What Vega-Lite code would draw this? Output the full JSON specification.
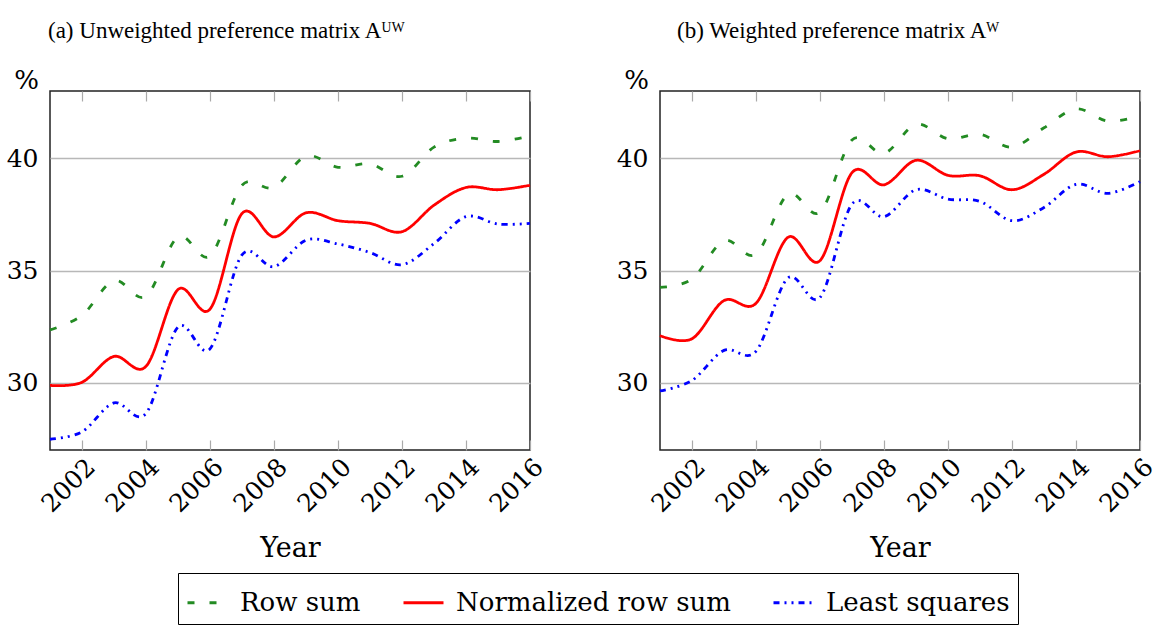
{
  "$schema": "https://vega.github.io/schema/vega-lite/v6.json",
  "background": "white",
  "padding": {"left": 5, "top": 19, "right": 0, "bottom": 0},
  "autosize": {"type": "pad"},
  "config": {
    "font": "DejaVu Serif",
    "view": {"stroke": "#222222", "strokeWidth": 1.5},
    "concat": {"spacing": 130},
    "axis": {"labelColor": "black", "titleColor": "black", "titleFontWeight": "normal"},
    "title": {"fontWeight": "normal", "color": "black"}
  },
  "datasets": {
    "pts": [
      {"panel": "a", "series": "Row sum", "year": 2001, "value": 32.35},
      {"panel": "a", "series": "Row sum", "year": 2002, "value": 33.0},
      {"panel": "a", "series": "Row sum", "year": 2003, "value": 34.55},
      {"panel": "a", "series": "Row sum", "year": 2004, "value": 33.85},
      {"panel": "a", "series": "Row sum", "year": 2005, "value": 36.5},
      {"panel": "a", "series": "Row sum", "year": 2006, "value": 35.65},
      {"panel": "a", "series": "Row sum", "year": 2007, "value": 38.8},
      {"panel": "a", "series": "Row sum", "year": 2008, "value": 38.7},
      {"panel": "a", "series": "Row sum", "year": 2009, "value": 40.1},
      {"panel": "a", "series": "Row sum", "year": 2010, "value": 39.6},
      {"panel": "a", "series": "Row sum", "year": 2011, "value": 39.75},
      {"panel": "a", "series": "Row sum", "year": 2012, "value": 39.2},
      {"panel": "a", "series": "Row sum", "year": 2013, "value": 40.5},
      {"panel": "a", "series": "Row sum", "year": 2014, "value": 40.9},
      {"panel": "a", "series": "Row sum", "year": 2015, "value": 40.75},
      {"panel": "a", "series": "Row sum", "year": 2016, "value": 41.0},
      {"panel": "a", "series": "Normalized row sum", "year": 2001, "value": 29.88},
      {"panel": "a", "series": "Normalized row sum", "year": 2002, "value": 30.02},
      {"panel": "a", "series": "Normalized row sum", "year": 2003, "value": 31.17},
      {"panel": "a", "series": "Normalized row sum", "year": 2004, "value": 30.73},
      {"panel": "a", "series": "Normalized row sum", "year": 2005, "value": 34.15},
      {"panel": "a", "series": "Normalized row sum", "year": 2006, "value": 33.28},
      {"panel": "a", "series": "Normalized row sum", "year": 2007, "value": 37.54},
      {"panel": "a", "series": "Normalized row sum", "year": 2008, "value": 36.5},
      {"panel": "a", "series": "Normalized row sum", "year": 2009, "value": 37.57},
      {"panel": "a", "series": "Normalized row sum", "year": 2010, "value": 37.22},
      {"panel": "a", "series": "Normalized row sum", "year": 2011, "value": 37.1},
      {"panel": "a", "series": "Normalized row sum", "year": 2012, "value": 36.73},
      {"panel": "a", "series": "Normalized row sum", "year": 2013, "value": 37.91},
      {"panel": "a", "series": "Normalized row sum", "year": 2014, "value": 38.7},
      {"panel": "a", "series": "Normalized row sum", "year": 2015, "value": 38.6},
      {"panel": "a", "series": "Normalized row sum", "year": 2016, "value": 38.8},
      {"panel": "a", "series": "Least squares", "year": 2001, "value": 27.48},
      {"panel": "a", "series": "Least squares", "year": 2002, "value": 27.81},
      {"panel": "a", "series": "Least squares", "year": 2003, "value": 29.1},
      {"panel": "a", "series": "Least squares", "year": 2004, "value": 28.63},
      {"panel": "a", "series": "Least squares", "year": 2005, "value": 32.48},
      {"panel": "a", "series": "Least squares", "year": 2006, "value": 31.51},
      {"panel": "a", "series": "Least squares", "year": 2007, "value": 35.7},
      {"panel": "a", "series": "Least squares", "year": 2008, "value": 35.17},
      {"panel": "a", "series": "Least squares", "year": 2009, "value": 36.35},
      {"panel": "a", "series": "Least squares", "year": 2010, "value": 36.18},
      {"panel": "a", "series": "Least squares", "year": 2011, "value": 35.8},
      {"panel": "a", "series": "Least squares", "year": 2012, "value": 35.26},
      {"panel": "a", "series": "Least squares", "year": 2013, "value": 36.2},
      {"panel": "a", "series": "Least squares", "year": 2014, "value": 37.4},
      {"panel": "a", "series": "Least squares", "year": 2015, "value": 37.07},
      {"panel": "a", "series": "Least squares", "year": 2016, "value": 37.1},
      {"panel": "b", "series": "Row sum", "year": 2001, "value": 34.25},
      {"panel": "b", "series": "Row sum", "year": 2002, "value": 34.62},
      {"panel": "b", "series": "Row sum", "year": 2003, "value": 36.33},
      {"panel": "b", "series": "Row sum", "year": 2004, "value": 35.73},
      {"panel": "b", "series": "Row sum", "year": 2005, "value": 38.4},
      {"panel": "b", "series": "Row sum", "year": 2006, "value": 37.6},
      {"panel": "b", "series": "Row sum", "year": 2007, "value": 40.82},
      {"panel": "b", "series": "Row sum", "year": 2008, "value": 40.22},
      {"panel": "b", "series": "Row sum", "year": 2009, "value": 41.51},
      {"panel": "b", "series": "Row sum", "year": 2010, "value": 40.87},
      {"panel": "b", "series": "Row sum", "year": 2011, "value": 41.07},
      {"panel": "b", "series": "Row sum", "year": 2012, "value": 40.5},
      {"panel": "b", "series": "Row sum", "year": 2013, "value": 41.36},
      {"panel": "b", "series": "Row sum", "year": 2014, "value": 42.2},
      {"panel": "b", "series": "Row sum", "year": 2015, "value": 41.66},
      {"panel": "b", "series": "Row sum", "year": 2016, "value": 41.88},
      {"panel": "b", "series": "Normalized row sum", "year": 2001, "value": 32.1},
      {"panel": "b", "series": "Normalized row sum", "year": 2002, "value": 31.96},
      {"panel": "b", "series": "Normalized row sum", "year": 2003, "value": 33.66},
      {"panel": "b", "series": "Normalized row sum", "year": 2004, "value": 33.54},
      {"panel": "b", "series": "Normalized row sum", "year": 2005, "value": 36.48},
      {"panel": "b", "series": "Normalized row sum", "year": 2006, "value": 35.44},
      {"panel": "b", "series": "Normalized row sum", "year": 2007, "value": 39.36},
      {"panel": "b", "series": "Normalized row sum", "year": 2008, "value": 38.82},
      {"panel": "b", "series": "Normalized row sum", "year": 2009, "value": 39.91},
      {"panel": "b", "series": "Normalized row sum", "year": 2010, "value": 39.24},
      {"panel": "b", "series": "Normalized row sum", "year": 2011, "value": 39.22},
      {"panel": "b", "series": "Normalized row sum", "year": 2012, "value": 38.6},
      {"panel": "b", "series": "Normalized row sum", "year": 2013, "value": 39.29},
      {"panel": "b", "series": "Normalized row sum", "year": 2014, "value": 40.28},
      {"panel": "b", "series": "Normalized row sum", "year": 2015, "value": 40.07},
      {"panel": "b", "series": "Normalized row sum", "year": 2016, "value": 40.34},
      {"panel": "b", "series": "Least squares", "year": 2001, "value": 29.63},
      {"panel": "b", "series": "Least squares", "year": 2002, "value": 30.1},
      {"panel": "b", "series": "Least squares", "year": 2003, "value": 31.44},
      {"panel": "b", "series": "Least squares", "year": 2004, "value": 31.4},
      {"panel": "b", "series": "Least squares", "year": 2005, "value": 34.67},
      {"panel": "b", "series": "Least squares", "year": 2006, "value": 33.8},
      {"panel": "b", "series": "Least squares", "year": 2007, "value": 37.96},
      {"panel": "b", "series": "Least squares", "year": 2008, "value": 37.4},
      {"panel": "b", "series": "Least squares", "year": 2009, "value": 38.6},
      {"panel": "b", "series": "Least squares", "year": 2010, "value": 38.18},
      {"panel": "b", "series": "Least squares", "year": 2011, "value": 38.08},
      {"panel": "b", "series": "Least squares", "year": 2012, "value": 37.22},
      {"panel": "b", "series": "Least squares", "year": 2013, "value": 37.81},
      {"panel": "b", "series": "Least squares", "year": 2014, "value": 38.84},
      {"panel": "b", "series": "Least squares", "year": 2015, "value": 38.44},
      {"panel": "b", "series": "Least squares", "year": 2016, "value": 38.96}
    ]
  },
  "bounds": "flush",
  "hconcat": [
    {
      "width": 480,
      "height": 359,
      "title": {"text": "(a) Unweighted preference matrix Aᵁᵂ", "anchor": "start", "frame": "group", "font": "Liberation Serif", "fontSize": 23, "offset": 24, "dx": -2},
      "data": {"name": "pts"},
      "transform": [{"filter": "datum.panel === 'a'"}],
      "layer": [
        {
          "mark": {"type": "line", "interpolate": "cardinal", "strokeWidth": 2.8},
          "encoding": {
            "x": {"field": "year", "type": "quantitative", "scale": {"domain": [2001, 2016], "nice": false, "zero": false},
              "axis": {"title": "Year", "values": [2002, 2004, 2006, 2008, 2010, 2012, 2014, 2016], "format": "d", "labelAngle": -45, "labelFont": "DejaVu Serif", "titleFont": "DejaVu Serif", "labelFontSize": 25, "titleFontSize": 27, "grid": false, "domain": false, "tickSize": -10, "tickColor": "#aaaaaa", "tickWidth": 1.2, "labelPadding": 14, "titlePadding": 19}},
            "y": {"field": "value", "type": "quantitative", "scale": {"domain": [27, 43], "nice": false, "zero": false},
              "axis": {"title": "%", "titleAngle": 0, "titleAlign": "center", "titleBaseline": "bottom", "titleX": -24, "titleY": 2, "values": [30, 35, 40], "labelFont": "DejaVu Serif", "titleFont": "DejaVu Serif", "labelFontSize": 25, "titleFontSize": 26, "grid": true, "gridColor": "#b8b8b8", "gridWidth": 1.3, "ticks": false, "domain": false, "labelPadding": 12}},
            "color": {"field": "series", "type": "nominal", "scale": {"domain": ["Row sum", "Normalized row sum", "Least squares"], "range": ["#238B23", "#FF0000", "#0000FF"]},
              "legend": {"title": null, "orient": "none", "legendX": 128, "legendY": 482, "direction": "horizontal", "columns": 3, "symbolType": "stroke", "symbolSize": 1600, "symbolStrokeWidth": 3, "labelFontSize": 26, "labelFont": "DejaVu Serif", "labelColor": "black", "columnPadding": 36, "labelOffset": 11, "strokeColor": "black", "padding": 8, "labelLimit": 400}},
            "strokeDash": {"field": "series", "type": "nominal", "scale": {"domain": ["Row sum", "Normalized row sum", "Least squares"], "range": [[7, 15], [1, 0], [6, 5, 2, 5, 2, 5]]}, "legend": {"title": null}}
          }
        },
        {
          "mark": {"type": "line", "opacity": 0},
          "encoding": {
            "x": {"field": "year", "type": "quantitative", "scale": {"domain": [2001, 2016], "nice": false, "zero": false},
              "axis": {"orient": "top", "title": null, "labels": false, "values": [2002, 2004, 2006, 2008, 2010, 2012, 2014, 2016], "grid": false, "domain": false, "tickSize": -10, "tickColor": "#aaaaaa", "tickWidth": 1.2}},
            "y": {"field": "value", "type": "quantitative", "scale": {"domain": [27, 43], "nice": false, "zero": false},
              "axis": {"title": "%", "titleAngle": 0, "titleAlign": "center", "titleBaseline": "bottom", "titleX": -24, "titleY": 2, "values": [30, 35, 40], "labelFont": "DejaVu Serif", "titleFont": "DejaVu Serif", "labelFontSize": 25, "titleFontSize": 26, "grid": true, "gridColor": "#b8b8b8", "gridWidth": 1.3, "ticks": false, "domain": false, "labelPadding": 12}}
          }
        }
      ],
      "resolve": {"axis": {"x": "independent"}}
    },
    {
      "width": 480,
      "height": 359,
      "title": {"text": "(b) Weighted preference matrix Aᵂ", "anchor": "start", "frame": "group", "font": "Liberation Serif", "fontSize": 23, "offset": 24, "dx": 17},
      "data": {"name": "pts"},
      "transform": [{"filter": "datum.panel === 'b'"}],
      "layer": [
        {
          "mark": {"type": "line", "interpolate": "cardinal", "strokeWidth": 2.8},
          "encoding": {
            "x": {"field": "year", "type": "quantitative", "scale": {"domain": [2001, 2016], "nice": false, "zero": false},
              "axis": {"title": "Year", "values": [2002, 2004, 2006, 2008, 2010, 2012, 2014, 2016], "format": "d", "labelAngle": -45, "labelFont": "DejaVu Serif", "titleFont": "DejaVu Serif", "labelFontSize": 25, "titleFontSize": 27, "grid": false, "domain": false, "tickSize": -10, "tickColor": "#aaaaaa", "tickWidth": 1.2, "labelPadding": 14, "titlePadding": 19}},
            "y": {"field": "value", "type": "quantitative", "scale": {"domain": [27, 43], "nice": false, "zero": false},
              "axis": {"title": "%", "titleAngle": 0, "titleAlign": "center", "titleBaseline": "bottom", "titleX": -24, "titleY": 2, "values": [30, 35, 40], "labelFont": "DejaVu Serif", "titleFont": "DejaVu Serif", "labelFontSize": 25, "titleFontSize": 26, "grid": true, "gridColor": "#b8b8b8", "gridWidth": 1.3, "ticks": false, "domain": false, "labelPadding": 12}},
            "color": {"field": "series", "type": "nominal", "scale": {"domain": ["Row sum", "Normalized row sum", "Least squares"], "range": ["#238B23", "#FF0000", "#0000FF"]}},
            "strokeDash": {"field": "series", "type": "nominal", "scale": {"domain": ["Row sum", "Normalized row sum", "Least squares"], "range": [[7, 15], [1, 0], [6, 5, 2, 5, 2, 5]]}}
          }
        },
        {
          "mark": {"type": "line", "opacity": 0},
          "encoding": {
            "x": {"field": "year", "type": "quantitative", "scale": {"domain": [2001, 2016], "nice": false, "zero": false},
              "axis": {"orient": "top", "title": null, "labels": false, "values": [2002, 2004, 2006, 2008, 2010, 2012, 2014, 2016], "grid": false, "domain": false, "tickSize": -10, "tickColor": "#aaaaaa", "tickWidth": 1.2}},
            "y": {"field": "value", "type": "quantitative", "scale": {"domain": [27, 43], "nice": false, "zero": false},
              "axis": {"title": "%", "titleAngle": 0, "titleAlign": "center", "titleBaseline": "bottom", "titleX": -24, "titleY": 2, "values": [30, 35, 40], "labelFont": "DejaVu Serif", "titleFont": "DejaVu Serif", "labelFontSize": 25, "titleFontSize": 26, "grid": true, "gridColor": "#b8b8b8", "gridWidth": 1.3, "ticks": false, "domain": false, "labelPadding": 12}}
          }
        }
      ],
      "resolve": {"axis": {"x": "independent"}}
    }
  ],
  "resolve": {"scale": {"color": "shared", "strokeDash": "shared"}}
}
